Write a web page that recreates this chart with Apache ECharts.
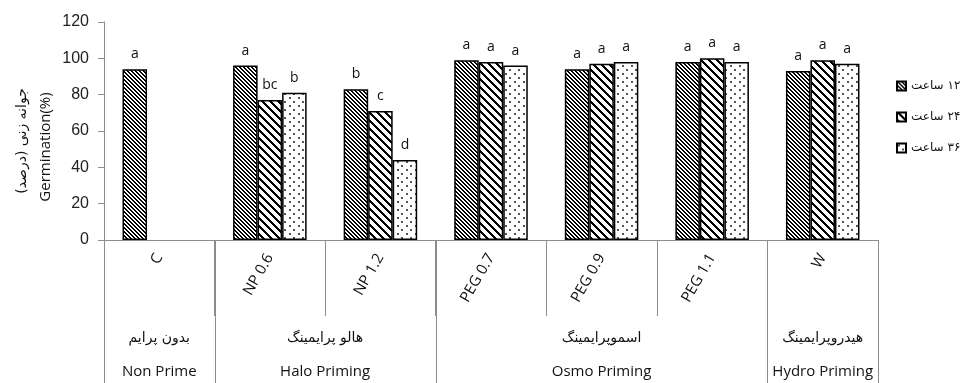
<!DOCTYPE html>
<html>
<head>
<meta charset="utf-8">
<script src="https://cdn.jsdelivr.net/npm/echarts@6/dist/echarts.min.js"></script>
<style>
  html, body { margin: 0; padding: 0; background: #fff; }
  #chart { width: 969px; height: 383px; }
</style>
</head>
<body>
<div id="chart"></div>
<script>
// Treatments (first category row)
const categories = ['C', 'NP 0.6', 'NP 1.2', 'PEG 0.7', 'PEG 0.9', 'PEG 1.1', 'W'];

// Germination (%) per priming duration
const hours12 = [94, 96, 83, 99, 94, 98, 93];
const hours24 = [null, 77, 71, 98, 97, 100, 99];
const hours36 = [null, 81, 44, 96, 98, 98, 97];

// Mean-comparison letters shown above the bars
const letters12 = ['a', 'a', 'b', 'a', 'a', 'a', 'a'];
const letters24 = ['', 'bc', 'c', 'a', 'a', 'a', 'a'];
const letters36 = ['', 'b', 'd', 'a', 'a', 'a', 'a'];

// Legend names
const seriesNames = ['۱۲ ساعت', '۲۴ ساعت', '۳۶ ساعت'];

// Priming groups (second and third category rows)
const groupFa = ['بدون پرایم', 'هالو پرایمینگ', 'اسموپرایمینگ', 'هیدروپرایمینگ'];
const groupEn = ['Non Prime', 'Halo Priming', 'Osmo Priming', 'Hydro Priming'];
const groupSpan = [1, 2, 3, 1];

// Y axis ticks
const yMin = 0, yMax = 120, yStep = 20;

// Right-to-left embedding for Persian strings
const rtl = s => '\u202B' + s + '\u202C';

// Fill patterns drawn on small tiles
function tile(w, h, painter) {
  const c = document.createElement('canvas');
  c.width = w; c.height = h;
  const g = c.getContext('2d');
  g.fillStyle = '#fff';
  g.fillRect(0, 0, w, h);
  painter(g);
  return { image: c, repeat: 'repeat' };
}
function stripes(period, thick) {
  return tile(period, period, (g) => {
    g.fillStyle = '#000';
    for (let y = 0; y < period; y++) {
      for (let x = 0; x < period; x++) {
        if ((((x - y) % period) + period) % period < thick) g.fillRect(x, y, 1, 1);
      }
    }
  });
}
const fineStripes = stripes(4, 2);
const wideStripes = stripes(8, 3);
const dots = tile(9, 8, (g) => {
  g.fillStyle = '#555';
  g.fillRect(1, 1, 2, 2);
  g.fillRect(5, 5, 2, 2);
});

const fills = [fineStripes, wideStripes, dots];
const values = [hours12, hours24, hours36];
const letters = [letters12, letters24, letters36];

const chart = echarts.init(document.getElementById('chart'), null, { renderer: 'canvas' });

const axisGray = '#8c8c8c';

const option = {
  animation: false,
  backgroundColor: '#fff',
  grid: { left: 104, right: 91, top: 22, bottom: 143, containLabel: false },
  legend: {
    orient: 'vertical',
    left: 891,
    top: 75,
    itemWidth: 9,
    itemHeight: 9,
    itemGap: 19,
    icon: 'rect',
    textStyle: { fontSize: 12, fontFamily: 'DejaVu Sans', color: '#111' },
    data: seriesNames.map(rtl)
  },
  xAxis: {
    type: 'category',
    data: categories,
    axisLine: { lineStyle: { color: axisGray, width: 1 } },
    axisTick: { show: true, interval: 0, length: 76, lineStyle: { color: axisGray } },
    axisLabel: {
      interval: 0, rotate: 60, margin: 15,
      fontSize: 15, fontFamily: 'Open Sans', color: '#111'
    }
  },
  yAxis: {
    type: 'value',
    min: yMin, max: yMax, interval: yStep,
    splitLine: { show: false },
    axisLine: { show: true, lineStyle: { color: axisGray } },
    axisTick: { show: true, length: 6, lineStyle: { color: axisGray } },
    axisLabel: { fontSize: 16, fontFamily: 'Liberation Sans', color: '#222', margin: 15 }
  },
  series: values.map((vals, i) => ({
    type: 'bar',
    name: rtl(seriesNames[i]),
    data: vals,
    barGap: '0%',
    barCategoryGap: '33.5%',
    itemStyle: { color: fills[i], borderColor: '#000', borderWidth: 1.5 },
    label: {
      show: true,
      position: 'top',
      distance: 8,
      fontSize: 14,
      fontFamily: 'Open Sans',
      color: '#111',
      formatter: p => letters[i][p.dataIndex]
    }
  }))
};

chart.setOption(option);

// Multi-level category frame, group labels and axis title
function drawFrame() {
  const x0 = chart.convertToPixel({ xAxisIndex: 0 }, categories[0]);
  const x1 = chart.convertToPixel({ xAxisIndex: 0 }, categories[1]);
  const band = x1 - x0;
  const yBase = chart.convertToPixel({ yAxisIndex: 0 }, yMin);
  const bottom = 383;
  const edge = k => x0 - band / 2 + k * band;

  const elements = [];
  let start = 0;
  const bounds = [0];
  groupSpan.forEach((span, gi) => {
    const mid = (edge(start) + edge(start + span)) / 2;
    elements.push({
      type: 'text', x: mid, y: yBase + 98,
      style: { text: rtl(groupFa[gi]), fontSize: 14, fontFamily: 'DejaVu Sans', fill: '#111', align: 'center', verticalAlign: 'middle' }
    });
    elements.push({
      type: 'text', x: mid, y: yBase + 132,
      style: { text: groupEn[gi], fontSize: 15, fontFamily: 'Open Sans', fill: '#111', align: 'center', verticalAlign: 'middle' }
    });
    start += span;
    bounds.push(start);
  });
  bounds.forEach(k => {
    elements.push({
      type: 'line',
      shape: { x1: Math.round(edge(k)) + 0.5, y1: yBase, x2: Math.round(edge(k)) + 0.5, y2: bottom },
      style: { stroke: axisGray, lineWidth: 1 }
    });
  });

  // Axis title, two rotated lines
  elements.push({
    type: 'text', x: 22, y: 141, rotation: Math.PI / 2,
    style: { text: rtl('جوانه زنی (درصد)'), fontSize: 14, fontFamily: 'DejaVu Sans', fill: '#111', align: 'center', verticalAlign: 'middle' }
  });
  elements.push({
    type: 'text', x: 46, y: 147, rotation: Math.PI / 2,
    style: { text: 'Germination(%)', fontSize: 15, fontFamily: 'Open Sans', fill: '#111', align: 'center', verticalAlign: 'middle' }
  });

  chart.setOption({ graphic: { elements } });
}
drawFrame();
</script>
</body>
</html>
